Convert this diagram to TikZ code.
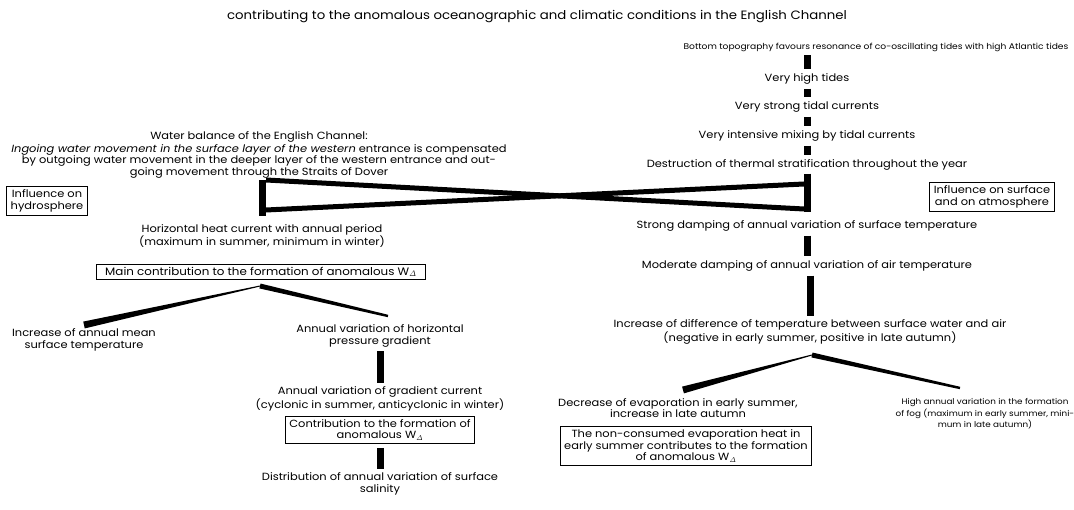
\documentclass[tikz,border=0pt]{standalone}
\usepackage[no-math]{fontspec}
\setmainfont{Poppins}[FakeStretch=1.1]
\usetikzlibrary{calc}

\newcommand{\Wd}{W$_{\mathit{\Delta}}$}
% tapered black bar from #1 (half width #3) to #2 (half width #4)
\newcommand{\taper}[4]{\fill ($(#1)!#3!90:(#2)$) -- ($(#1)!#3!-90:(#2)$) -- ($(#2)!#4!90:(#1)$) -- ($(#2)!#4!-90:(#1)$) -- cycle;}

\begin{document}
\begin{tikzpicture}[x=1pt,y=-1pt]
  \tikzset{every node/.style={font=\fontsize{10.4}{11.5}\selectfont, inner sep=0pt, align=center}}
  \tikzset{smalltext/.style={font=\fontsize{8.3}{11.5}\selectfont}}
  \tikzset{headtext/.style={font=\fontsize{12.1}{13}\selectfont}}
  \tikzset{infobox/.style={draw, line width=1pt, inner xsep=4pt, inner ysep=3pt}}
  \tikzset{bar/.style={line width=7pt, shorten <=4pt, shorten >=4pt}}
  \tikzset{cross/.style={line width=5pt}}
  \useasboundingbox (0,0) rectangle (1074,510);

  \node[headtext] (sub) at (537,17) {contributing to the anomalous oceanographic and climatic conditions in the English Channel};

  % right column
  \node[smalltext] (topo) at (876,47) {Bottom topography favours resonance of co-oscillating tides with high Atlantic tides};
  \node (hightide) at (807,79) {Very high tides};
  \node (strongcur) at (807,107) {Very strong tidal currents};
  \node (mixing) at (807,136) {Very intensive mixing by tidal currents};
  \node (destr) at (807,165) {Destruction of thermal stratification throughout the year};
  \node[infobox] (atmo) at (992,197) {Influence on surface\\and on atmosphere};
  \node (damps) at (807,226) {Strong damping of annual variation of surface temperature};
  \node (dampa) at (807,266) {Moderate damping of annual variation of air temperature};
  \node (diff) at (810,332) {Increase of difference of temperature between surface water and air\\(negative in early summer, positive in late autumn)};
  \node (evap) at (678,408) {Decrease of evaporation in early summer,\\increase in late autumn};
  \node[infobox] (evapheat) at (686,446) {The non-consumed evaporation heat in\\early summer contributes to the formation\\of anomalous \Wd};
  \node[smalltext, font=\fontsize{8}{11.5}\selectfont] (fog) at (985,414) {High annual variation in the formation\\of fog (maximum in early summer, mini-\\mum in late autumn)};

  % left column
  \node (balance) at (259,155) {Water balance of the English Channel:\\[1pt]
    \textit{Ingoing water movement in the surface layer of the western} entrance is compensated\\
    by outgoing water movement in the deeper layer of the western entrance and out-\\
    going movement through the Straits of Dover};
  \node[infobox] (hydro) at (47,201) {Influence on\\hydrosphere};
  \node (heat) at (262,236) {Horizontal heat current with annual period\\(maximum in summer, minimum in winter)};
  \node[infobox, inner xsep=9pt, font=\fontsize{10.8}{11.5}\selectfont] (maincontr) at (261,272) {Main contribution to the formation of anomalous \Wd};
  \node (meantemp) at (84,340) {Increase of annual mean\\surface temperature};
  \node (pressure) at (380,336) {Annual variation of horizontal\\pressure gradient};
  \node (gradcur) at (380,399) {Annual variation of gradient current\\(cyclonic in summer, anticyclonic in winter)};
  \node[infobox] (contr) at (380,430) {Contribution to the formation of\\anomalous \Wd};
  \node (salinity) at (380,484) {Distribution of annual variation of surface\\salinity};

  \draw[bar] (hightide |- topo.south) -- (hightide.north);
  \draw[bar] (hightide) -- (strongcur);
  \draw[bar] (strongcur) -- (mixing);
  \draw[bar] (mixing) -- (destr);
  \draw[bar, shorten <=3pt, shorten >=8pt] (destr) -- (damps);
  \draw[bar] (damps) -- (dampa);
  \draw[bar] (dampa.south -| diff) -- (diff.north);
  \draw[bar, shorten <=2pt, shorten >=8pt] (balance.south -| heat) -- (heat.north);
  \draw[bar] (pressure) -- (gradcur);
  \draw[bar] (contr) -- (salinity);

  \coordinate (wl1) at (266,180);
  \coordinate (wl2) at (266,210);
  \coordinate (wr1) at (804,184);
  \coordinate (wr2) at (804,209);
  \draw[cross] (wl1) -- (wr2);
  \draw[cross] (wl2) -- (wr1);

  \coordinate (splitA) at (260,286);
  \coordinate (endA1) at (84,325);
  \coordinate (endA2) at (388,316);
  \coordinate (splitB) at (812,355);
  \coordinate (endB1) at (683,390);
  \coordinate (endB2) at (960,388);
  \taper{splitA}{endA1}{0.5pt}{3.5pt}
  \taper{splitA}{endA2}{2.5pt}{1.2pt}
  \taper{splitB}{endB1}{0.5pt}{3.5pt}
  \taper{splitB}{endB2}{2.5pt}{1.2pt}
\end{tikzpicture}
\end{document}
